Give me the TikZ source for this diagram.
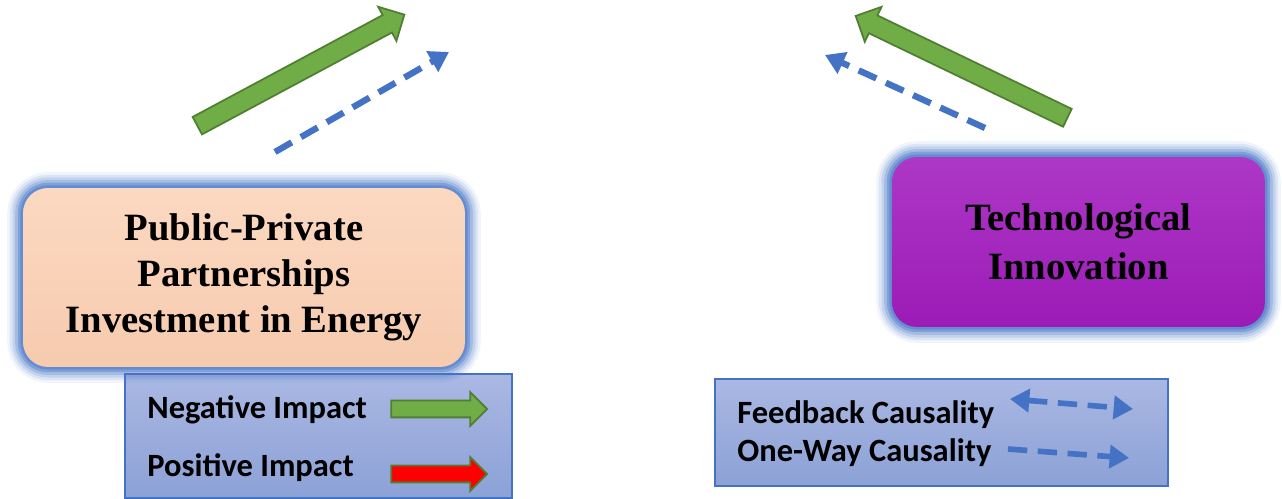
\documentclass[tikz,border=0pt]{standalone}
\usepackage{fontspec}
\setmainfont{Liberation Serif}
\newfontfamily\legendfont{Carlito}
\usetikzlibrary{positioning,shapes.arrows,arrows.meta}

\definecolor{peach}{HTML}{FBCFB2}
\definecolor{techpurple}{HTML}{A21CBE}
\definecolor{glowblue}{HTML}{4A78C8}
\definecolor{arrowgreen}{HTML}{70AD47}
\definecolor{edgegreen}{HTML}{507E32}
\definecolor{causalblue}{HTML}{4472C4}
\definecolor{legendtop}{HTML}{AAB8E3}
\definecolor{legendbot}{HTML}{8CA1D6}

\begin{document}
\begin{tikzpicture}[x=0.02cm, y=-0.02cm,
    every node/.style = {inner sep=0pt},
    factor/.style = {rounded corners=0.5cm, align=center,
        font=\bfseries\fontsize{22}{26}\selectfont,
        preaction={draw=glowblue, line width=18pt, opacity=.08},
        preaction={draw=glowblue, line width=15pt, opacity=.12},
        preaction={draw=glowblue, line width=12pt, opacity=.18},
        preaction={draw=glowblue, line width=9pt, opacity=.25},
        preaction={draw=glowblue, line width=6pt, opacity=.4},
        preaction={draw=glowblue, line width=3pt, opacity=.5}},
    legendbox/.style = {draw=causalblue, line width=1pt, top color=legendtop, bottom color=legendbot},
    legtext/.style = {anchor=west, font=\legendfont\bfseries\fontsize{18.5}{22}\selectfont},
    impact/.style = {single arrow, draw=edgegreen, line width=1pt, minimum width=0pt},
    bigimpact/.style = {impact, fill=arrowgreen, inner ysep=0.18cm,
        single arrow head extend=0.19cm, minimum height=4.7cm},
    keyimpact/.style = {impact, inner ysep=0.15cm,
        single arrow head extend=0.17cm, minimum height=1.92cm},
    causal/.style = {draw=causalblue, line width=3.6pt, dash pattern=on 11pt off 6pt},
    causalhead/.style = {-{Triangle[length=11pt,width=13pt]}}]
  \useasboundingbox (0,0) rectangle (1282,499);

  % legends
  \node[legendbox, minimum width=7.74cm, minimum height=2.48cm] (impactkey) at (318.5,436) {};
  \node[legtext] (neg) at (147,410) {Negative Impact};
  \node[legtext] (pos) at (147,468) {Positive Impact};
  \node[keyimpact, fill=arrowgreen] (negarrow) at (435,409) {};
  \node[keyimpact, fill=red] (posarrow) at (435,474) {};

  \node[legendbox, minimum width=9.06cm, minimum height=2.14cm] (causalkey) at (941.5,432.5) {};
  \node[legtext] (feedback) at (737,415) {Feedback Causality};
  \node[legtext] (oneway) at (737,453) {One-Way Causality};
  \coordinate (fb-a) at (1010,399);
  \coordinate (fb-b) at (1133,409);
  \coordinate (ow-a) at (1008,449);
  \coordinate (ow-b) at (1129,458);
  \draw[causal, line width=3.2pt, {Triangle[length=11pt,width=13pt]}-{Triangle[length=11pt,width=13pt]}] (fb-a) -- (fb-b);
  \draw[causal, line width=3.2pt, causalhead] (ow-a) -- (ow-b);

  % the two factors
  \node[factor, top color=peach!80!white, bottom color=peach!98!black,
        minimum width=8.84cm, minimum height=3.58cm] (ppp) at (244,277.5)
        {Public-Private\\ Partnerships\\ Investment in Energy};
  \node[factor, top color=techpurple!88!white, bottom color=techpurple!96!black,
        font=\bfseries\fontsize{22}{28}\selectfont,
        minimum width=7.46cm, minimum height=3.4cm] (tech) at (1078.5,242)
        {Technological\\ Innovation};

  % impacts
  \node[bigimpact, rotate=28.2] (pppimpact) at (296.5,72.5) {};
  \node[bigimpact, rotate=154.3] (techimpact) at (966,69) {};

  % causality
  \coordinate (ppp-from) at (275,152);
  \coordinate (ppp-to) at (449,52);
  \coordinate (tech-from) at (985,128);
  \coordinate (tech-to) at (825,55);
  \draw[causal, causalhead] (ppp-from) -- (ppp-to);
  \draw[causal, causalhead] (tech-from) -- (tech-to);
\end{tikzpicture}
\end{document}
